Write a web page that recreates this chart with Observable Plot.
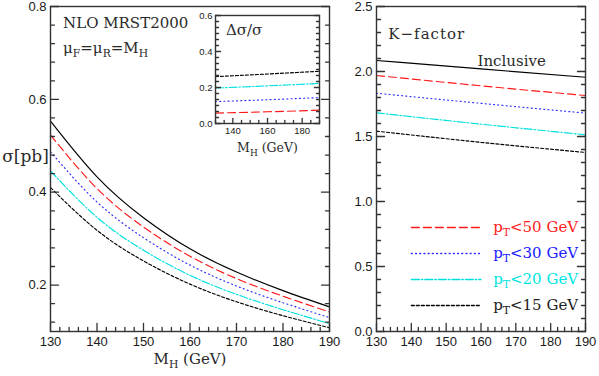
<!DOCTYPE html>
<html><head><meta charset="utf-8">
<script src="https://cdn.jsdelivr.net/npm/d3@7"></script>
<script src="https://cdn.jsdelivr.net/npm/@observablehq/plot@0.6"></script>
<style>
body{margin:0;background:#fff}
#wrap{position:relative;width:599px;height:376px;overflow:hidden}
#wrap > div{position:absolute}
</style></head><body><div id="wrap"><div id="pl" style="left:0;top:0;width:345px;height:376px"></div><div id="pr" style="left:345px;top:0;width:254px;height:376px"></div><div id="pi" style="left:185px;top:0;width:140px;height:165px"></div></div>
<script>
// ---------- data ----------
const seriesKeys = ["incl", "pt50", "pt30", "pt20", "pt15"];
const legendLabels = ["p_T<50 GeV", "p_T<30 GeV", "p_T<20 GeV", "p_T<15 GeV"];

// left panel: sigma [pb] vs M_H
const mH = [130, 140, 150, 160, 170, 180, 190];
const sigIncl = [0.553, 0.433, 0.345, 0.278, 0.228, 0.188, 0.153];
const sigPt50 = [0.523, 0.408, 0.325, 0.262, 0.214, 0.176, 0.142];
const sigPt30 = [0.487, 0.379, 0.302, 0.243, 0.198, 0.162, 0.130];
const sigPt20 = [0.446, 0.346, 0.275, 0.221, 0.180, 0.147, 0.117];
const sigPt15 = [0.410, 0.318, 0.252, 0.202, 0.164, 0.134, 0.108];

// inset: delta sigma / sigma
const mHInset = [130, 160, 190];
const dPt50 = [0.058, 0.065, 0.074];
const dPt30 = [0.122, 0.132, 0.144];
const dPt20 = [0.197, 0.209, 0.223];
const dPt15 = [0.260, 0.275, 0.290];

// right panel: K-factor
const mHK = [130, 160, 190];
const kIncl = [2.085, 2.020, 1.956];
const kPt50 = [1.969, 1.890, 1.815];
const kPt30 = [1.833, 1.755, 1.680];
const kPt20 = [1.682, 1.595, 1.513];
const kPt15 = [1.541, 1.455, 1.377];

// tick labels
const xTicksMain = [130, 140, 150, 160, 170, 180, 190];
const yTicksLeft = [0.2, 0.4, 0.6, 0.8];
const yTicksRight = [0.0, 0.5, 1.0, 1.5, 2.0, 2.5];
const xTicksInset = [140, 160, 180];
const yTicksInset = [0.0, 0.2, 0.4, 0.6];

// legend placement (data units of right panel)
const legendY = [0.8, 0.6, 0.4, 0.2];
const legendX = [140, 160];

// ---------- styles ----------
const style = {
  incl: {stroke: "#000", dash: null},
  pt50: {stroke: "#ff1a1a", dash: "8,4"},
  pt30: {stroke: "#2a2aff", dash: "1,3.2"},
  pt20: {stroke: "#00e0e0", dash: "8,2,1.5,2"},
  pt15: {stroke: "#000", dash: "3,2"}
};
const textColor = {pt50: "#ff2020", pt30: "#2020ff", pt20: "#00e4e4", pt15: "#222"};
const FRAME = "#333";
const TICK = "#333";
const SANS = "Liberation Sans, Arial, sans-serif";
const SERIF = "DejaVu Serif, serif";
const TXT = "#2a2a2a";

function rows(xs, ys) { return xs.map((x, i) => ({x, y: ys[i]})); }
function lines(data) {
  return seriesKeys.filter(k => data[k]).map(k => Plot.line(data[k], {
    x: "x", y: "y", stroke: style[k].stroke, strokeWidth: 1.15,
    strokeDasharray: style[k].dash, curve: "natural"
  }));
}
const minor = (a, b, s, majors) => d3.range(a, b + s / 2, s).map(v => +v.toFixed(4)).filter(v => !majors.some(m => Math.abs(m - v) < 1e-6));

// inward tick marks as short line segments (tick length in px converted through the frame size)
function axes(xd, yd, fw, fh, xMaj, xMin, yMaj, yMin, L, l, fs, pad) {
  const sx = (xd[1] - xd[0]) / fw, sy = (yd[1] - yd[0]) / fh;
  const segs = [];
  const add = (x1, y1, x2, y2) => { const id = segs.length / 2; segs.push({id, x: x1, y: y1}, {id, x: x2, y: y2}); };
  for (const [ts, n] of [[xMaj, L], [xMin, l]]) for (const v of ts) add(v, yd[0], v, yd[0] + n * sy);
  for (const [ts, n] of [[yMaj, L], [yMin, l]]) for (const v of ts) {
    add(xd[0], v, xd[0] + n * sx, v);
    add(xd[1], v, xd[1] - n * sx, v);
  }
  return [
    Plot.line(segs, {x: "x", y: "y", z: "id", stroke: TICK, strokeWidth: 1.3}),
    Plot.axisY({ticks: yMaj, tickSize: 0, tickPadding: pad, tickFormat: ".1f", fontSize: fs, fontFamily: SANS, fill: "#1a1a1a", label: null}),
    Plot.axisX({ticks: xMaj, tickSize: 0, tickPadding: pad + 1, tickFormat: "d", fontSize: fs, fontFamily: SANS, fill: "#1a1a1a", label: null})
  ];
}

function subs(svg) {
  d3.select(svg).selectAll("text").each(function () {
    if (this.querySelector("tspan")) return;
    const t = this.textContent;
    if (!t.includes("_")) return;
    const parts = t.split(/_(\S)/);
    const el = d3.select(this);
    el.text(null);
    let shifted = false;
    parts.forEach((p, i) => {
      if (!p) return;
      if (i % 2) {
        el.append("tspan").attr("font-size", "0.72em").attr("dy", 4).text(p);
        shifted = true;
      } else {
        const ts = el.append("tspan").text(p);
        if (shifted) { ts.attr("dy", -4); shifted = false; }
      }
    });
  });
}

const serifText = (s, opts) => Plot.text([s], {fontFamily: SERIF, fill: TXT, fontSize: 15, ...opts});

// ---------- left panel ----------
const leftData = {
  incl: rows(mH, sigIncl), pt50: rows(mH, sigPt50), pt30: rows(mH, sigPt30),
  pt20: rows(mH, sigPt20), pt15: rows(mH, sigPt15)
};
const left = Plot.plot({
  width: 345, height: 376, marginLeft: 50, marginRight: 16, marginTop: 6, marginBottom: 45,
  x: {domain: [130, 190]}, y: {domain: [0.1, 0.8]},
  marks: [
    ...lines(leftData),
    ...axes([130, 190], [0.1, 0.8], 279, 325, xTicksMain, minor(130, 190, 2, xTicksMain), yTicksLeft, minor(0.12, 0.76, 0.04, yTicksLeft), 8, 4, 13, 4),
    Plot.frame({stroke: FRAME, strokeWidth: 1.4}),
    serifText("NLO MRST2000", {x: 132.7, y: 0.763, textAnchor: "start"}),
    serifText("μ_F=μ_R=M_H", {x: 132.7, y: 0.711, textAnchor: "start"}),
    serifText("σ[pb]", {x: 130, y: 0.476, dx: -25, textAnchor: "middle", fontSize: 17}),
    serifText("M_H (GeV)", {frameAnchor: "bottom", dy: 32})
  ]
});

// ---------- inset ----------
const insetData = {
  pt50: rows(mHInset, dPt50), pt30: rows(mHInset, dPt30),
  pt20: rows(mHInset, dPt20), pt15: rows(mHInset, dPt15)
};
const inset = Plot.plot({
  width: 140, height: 165, marginLeft: 30, marginRight: 6, marginTop: 15, marginBottom: 42,
  x: {domain: [130, 190]}, y: {domain: [0, 0.6]},
  marks: [
    ...lines(insetData),
    ...axes([130, 190], [0, 0.6], 104, 108, xTicksInset, minor(130, 190, 5, xTicksInset), yTicksInset, minor(0, 0.6, 0.2 / 6, yTicksInset), 5, 3, 9.5, 3),
    Plot.frame({stroke: FRAME, strokeWidth: 1.4}),
    serifText("Δσ/σ", {x: 136, y: 0.52, textAnchor: "start"}),
    serifText("M_H (GeV)", {frameAnchor: "bottom", dy: 28, fontSize: 12.5})
  ]
});

// ---------- right panel ----------
const rightData = {
  incl: rows(mHK, kIncl), pt50: rows(mHK, kPt50), pt30: rows(mHK, kPt30),
  pt20: rows(mHK, kPt20), pt15: rows(mHK, kPt15)
};
const legendRows = seriesKeys.slice(1).map((k, i) => ({key: k, label: legendLabels[i], y: legendY[i]}));
const right = Plot.plot({
  width: 254, height: 376, marginLeft: 31, marginRight: 14, marginTop: 6, marginBottom: 45,
  x: {domain: [130, 190]}, y: {domain: [0, 2.5]},
  marks: [
    ...lines(rightData),
    ...axes([130, 190], [0, 2.5], 209, 325, xTicksMain, minor(130, 190, 2, xTicksMain), yTicksRight, minor(0, 2.5, 0.1, yTicksRight), 8, 4, 13, 4),
    Plot.frame({stroke: FRAME, strokeWidth: 1.4}),
    serifText("K−factor", {x: 133.4, y: 2.29, textAnchor: "start"}),
    serifText("Inclusive", {x: 168.8, y: 2.08, textAnchor: "middle"}),
    ...legendRows.map(r => Plot.line(legendX.map(x => ({x, y: r.y})), {x: "x", y: "y", stroke: style[r.key].stroke, strokeDasharray: style[r.key].dash, strokeWidth: 1.3})),
    ...legendRows.map(r => serifText(r.label, {x: 163.5, y: r.y, textAnchor: "start", fill: textColor[r.key]}))
  ]
});

for (const [svg, id] of [[left, "pl"], [right, "pr"], [inset, "pi"]]) {
  subs(svg);
  svg.style.overflow = "visible";
  svg.style.maxWidth = "none";
  document.getElementById(id).appendChild(svg);
}
d3.selectAll("#wrap svg text").filter(function () { return this.textContent === "K−factor"; }).attr("letter-spacing", 1);
</script></body></html>
